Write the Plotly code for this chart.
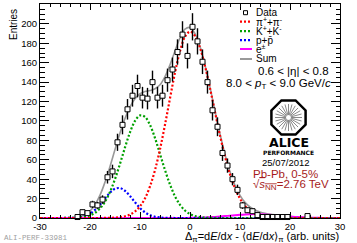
import numpy as np
import plotly.graph_objects as go

# ---------------- data ----------------
bin_centers = [-22.5, -21.5, -20.5, -19.5, -18.5, -17.5, -16.5, -15.5, -14.5, -13.5,
               -12.5, -11.5, -10.5, -9.5, -8.5, -7.5, -6.5, -5.5, -4.5, -3.5,
               -2.5, -1.5, -0.5, 0.5, 1.5, 2.5, 3.5, 4.5, 5.5, 6.5,
               7.5, 8.5, 9.5, 10.5, 11.5, 12.5, 13.5, 14.5, 15.5, 16.5,
               17.5, 18.5, 19.5, 23.5]
counts = [1, 6, 5, 14, 13, 19, 42, 48, 78, 96,
          112, 126, 136, 124, 123, 140, 124, 126, 142, 153,
          171, 189, 167, 197, 182, 161, 140, 111, 94, 67,
          54, 40, 29, 13, 8, 7, 3, 1, 1, 1,
          1, 1, 1, 2]

curve_x = list(range(-30, 31))
pion = [0]*13 + [0.06, 0.16, 0.38, 0.84, 1.78, 3.56, 6.7, 12.0, 20.3, 32.6, 49.4, 70.8, 96.1,
                 123.3, 149.7, 171.9, 186.8, 192.0, 187.7, 175.4, 156.6, 133.7, 109.1, 85.0,
                 63.4, 45.1, 30.7, 20.0, 12.4, 7.4, 4.2, 2.3, 1.18, 0.59, 0.28, 0.13, 0.05] + [0]*11
kaon = [0]*4 + [0.01, 0.03, 0.09, 0.23, 0.56, 1.28, 2.7, 5.3, 9.8, 16.8, 26.9, 40.1, 55.9, 72.7,
                88.3, 100.0, 105.7, 104.2, 95.9, 82.4, 66.0, 49.4, 34.5, 22.4, 13.6, 7.7, 4.1,
                2.0, 0.93, 0.4, 0.16, 0.06, 0.02] + [0]*24
proton = [0]*4 + [0.01, 0.03, 0.11, 0.34, 0.91, 2.14, 4.48, 8.3, 13.7, 20.1, 26.1, 30.1, 30.8,
                  28.0, 22.6, 16.2, 10.3, 5.8, 2.9, 1.3, 0.51, 0.18, 0.06, 0.02] + [0]*33
electron = [0]*26 + [0.012, 0.024, 0.045, 0.08, 0.137, 0.22, 0.36, 0.54, 0.79, 1.11, 1.5, 1.95,
                     2.43, 2.9, 3.34, 3.69, 3.92, 4.0, 3.92, 3.69, 3.34, 2.9, 2.43, 1.95, 1.5,
                     1.11, 0.79, 0.54, 0.36, 0.22, 0.137, 0.08, 0.045, 0.024, 0.012]
total = [0, 0, 0, 0, 0.02, 0.06, 0.2, 0.57, 1.47, 3.42, 7.18, 13.6, 23.5, 36.96, 53.16, 70.58,
         87.54, 102.48, 114.46, 122.9, 128.0, 130.3, 131.4, 133.1, 137.31, 145.68, 157.87,
         172.14, 185.55, 194.58, 196.24, 189.92, 176.69, 157.54, 134.65, 110.27, 86.52, 65.35,
         47.53, 33.6, 23.34, 16.09, 11.32, 8.2, 6.22, 4.87, 3.93, 3.18, 2.56, 2.0, 1.5, 1.11,
         0.79, 0.54, 0.36, 0.22, 0.14, 0.08, 0.05, 0.02, 0.01]

x_ticks = [-30, -20, -10, 0, 10, 20, 30]
x_ticklabels = ["-30", "-20", "-10", "0", "10", "20", "30"]
y_ticks = list(range(0, 221, 20))

legend_labels = ["Data", "π<sup>+</sup>+π<sup>-</sup>", "K<sup>+</sup>+K<sup>-</sup>",
                 "p+p\u0304", "e<sup>±</sup>", "Sum"]

# ---------------- layout geometry ----------------
W, H = 357, 243
L, R, T, B = 40, 17, 4, 25
PW, PH = W - L - R, H - T - B


def px(x):
    return (x - L) / PW


def py(y):
    return (H - B - y) / PH


FONT = "Liberation Sans, Arial, Helvetica, sans-serif"

fig = go.Figure()

fig.add_trace(go.Scatter(x=curve_x, y=total, mode="lines", line=dict(color="#999999", width=1.6, shape="spline"),
                         showlegend=False, hoverinfo="skip"))
fig.add_trace(go.Scatter(x=curve_x, y=electron, mode="lines", line=dict(color="#ff00ff", width=2, shape="spline"),
                         showlegend=False, hoverinfo="skip"))
fig.add_trace(go.Scatter(x=curve_x, y=proton, mode="lines",
                         line=dict(color="#0000ff", width=2.2, dash="2px,2px", shape="spline"),
                         showlegend=False, hoverinfo="skip"))
fig.add_trace(go.Scatter(x=curve_x, y=kaon, mode="lines",
                         line=dict(color="#00a000", width=2.2, dash="2px,2px", shape="spline"),
                         showlegend=False, hoverinfo="skip"))
fig.add_trace(go.Scatter(x=curve_x, y=pion, mode="lines",
                         line=dict(color="#ff0000", width=2.2, dash="2px,2px", shape="spline"),
                         showlegend=False, hoverinfo="skip"))
fig.add_trace(go.Scatter(x=bin_centers, y=counts, mode="markers",
                         error_y=dict(type="data", array=list(np.sqrt(counts)), color="black",
                                      thickness=1.4, width=0),
                         marker=dict(symbol="square", size=5, color="white",
                                     line=dict(color="black", width=1)),
                         showlegend=False, cliponaxis=False))

shapes = []
annotations = []

# legend (manual, ROOT-like compact)
rows = [12.7, 21.7, 31.2, 40.2, 49.0, 59.0]
colors = [None, "#ff0000", "#00a000", "#0000ff", "#ff00ff", "#999999"]
for i, (lab, yy) in enumerate(zip(legend_labels, rows)):
    if i == 0:
        shapes.append(dict(type="rect", xref="paper", yref="paper",
                           x0=px(243.5), x1=px(247.5), y0=py(yy + 2), y1=py(yy - 2),
                           line=dict(color="black", width=1), fillcolor="white"))
    else:
        dash = "solid" if i >= 4 else "2px,2px"
        shapes.append(dict(type="line", xref="paper", yref="paper",
                           x0=px(240), x1=px(252), y0=py(yy), y1=py(yy),
                           line=dict(color=colors[i], width=2 if i >= 4 else 2.2, dash=dash)))
    annotations.append(dict(text=lab, xref="paper", yref="paper", x=px(254), y=py(yy),
                            xanchor="left", yanchor="middle", showarrow=False,
                            font=dict(family=FONT, size=10, color="black")))

annotations += [
    dict(text="0.6 < |η| < 0.8", x=px(331), y=py(71), xanchor="right"),
    dict(text="8.0 < <i>p</i><sub>T</sub> < 9.0 GeV/<i>c</i>", x=px(333), y=py(84), xanchor="right"),
]
for a in annotations[-2:]:
    a.update(xref="paper", yref="paper", yanchor="middle", showarrow=False,
             font=dict(family=FONT, size=11.5, color="black"))

# ALICE logo
cx, cy, Rr = 288.5, 117.5, 18.5
ang = np.deg2rad(22.5 + 45 * np.arange(8))
pts = [(px(cx + Rr * np.cos(a)), py(cy + Rr * np.sin(a))) for a in ang]
path = "M " + " L ".join(f"{x:.5f},{y:.5f}" for x, y in pts) + " Z"
shapes.append(dict(type="path", xref="paper", yref="paper", path=path,
                   line=dict(color="black", width=2.5), fillcolor="white"))
for k in range(24):
    a = 2 * np.pi * k / 24
    shapes.append(dict(type="line", xref="paper", yref="paper",
                       x0=px(cx + 2.5 * np.cos(a)), y0=py(cy + 2.5 * np.sin(a)),
                       x1=px(cx + 13.5 * np.cos(a)), y1=py(cy + 13.5 * np.sin(a)),
                       line=dict(color="#8a8a8a", width=1)))

logo_txt = [
    ("<b>ALICE</b>", 288.5, 142.5, 12.5, "DejaVu Sans, sans-serif", "black"),
    ("<b>PERFORMANCE</b>", 288.5, 152.8, 6, "DejaVu Sans, sans-serif", "black"),
    ("25/07/2012", 285.5, 162, 9.5, FONT, "black"),
    ("Pb-Pb, 0-5%", 285.0, 173.5, 11.5, FONT, "#a61c1c"),
    ("√<span style='text-decoration:overline'><i>s</i><sub>NN</sub></span>=2.76 TeV", 290.5, 185, 11.5, FONT, "#a61c1c"),
]
for t, x, y, s, f, c in logo_txt:
    annotations.append(dict(text=t, xref="paper", yref="paper", x=px(x), y=py(y),
                            xanchor="center", yanchor="middle", showarrow=False,
                            font=dict(family=f, size=s, color=c)))

# axis titles
annotations.append(dict(text="Entries", xref="paper", yref="paper", x=px(13.5), y=py(7),
                        xanchor="center", yanchor="top", textangle=-90, showarrow=False,
                        font=dict(family=FONT, size=10, color="black")))
annotations.append(dict(text="Δ<sub>π</sub>=d<i>E</i>/d<i>x</i> - ⟨d<i>E</i>/d<i>x</i>⟩<sub>π</sub> (arb. units)",
                        xref="paper", yref="paper", x=px(341), y=py(236.5),
                        xanchor="right", yanchor="middle", showarrow=False,
                        font=dict(family=FONT, size=11, color="black")))
annotations.append(dict(text="ALI-PERF-33981", xref="paper", yref="paper", x=px(2), y=py(238.5),
                        xanchor="left", yanchor="middle", showarrow=False,
                        font=dict(family="Liberation Mono, monospace", size=7.5, color="#a0a0a0")))

fig.update_layout(
    width=W, height=H, margin=dict(l=L, r=R, t=T, b=B, pad=0),
    paper_bgcolor="white", plot_bgcolor="white",
    shapes=shapes, annotations=annotations, showlegend=False,
    font=dict(family=FONT, size=9, color="black"),
)
fig.update_xaxes(range=[-30, 30], tickvals=x_ticks, ticktext=x_ticklabels,
                 ticks="inside", ticklen=6, tickwidth=1, tickcolor="black",
                 minor=dict(dtick=2, ticks="inside", ticklen=3, tickcolor="black"),
                 showline=True, linecolor="black", linewidth=1, mirror="ticks",
                 showgrid=False, zeroline=False, tickfont=dict(size=9.5))
fig.update_yaxes(range=[0, 220.5], tickvals=y_ticks,
                 ticks="inside", ticklen=9, tickwidth=1, tickcolor="black",
                 minor=dict(dtick=5, ticks="inside", ticklen=4.5, tickcolor="black"),
                 showline=True, linecolor="black", linewidth=1, mirror="ticks",
                 showgrid=False, zeroline=False, tickfont=dict(size=9.5))

fig.write_html("out.html", config={"displayModeBar": False},
               post_script="document.body.style.margin='0';document.body.style.overflow='hidden';")
